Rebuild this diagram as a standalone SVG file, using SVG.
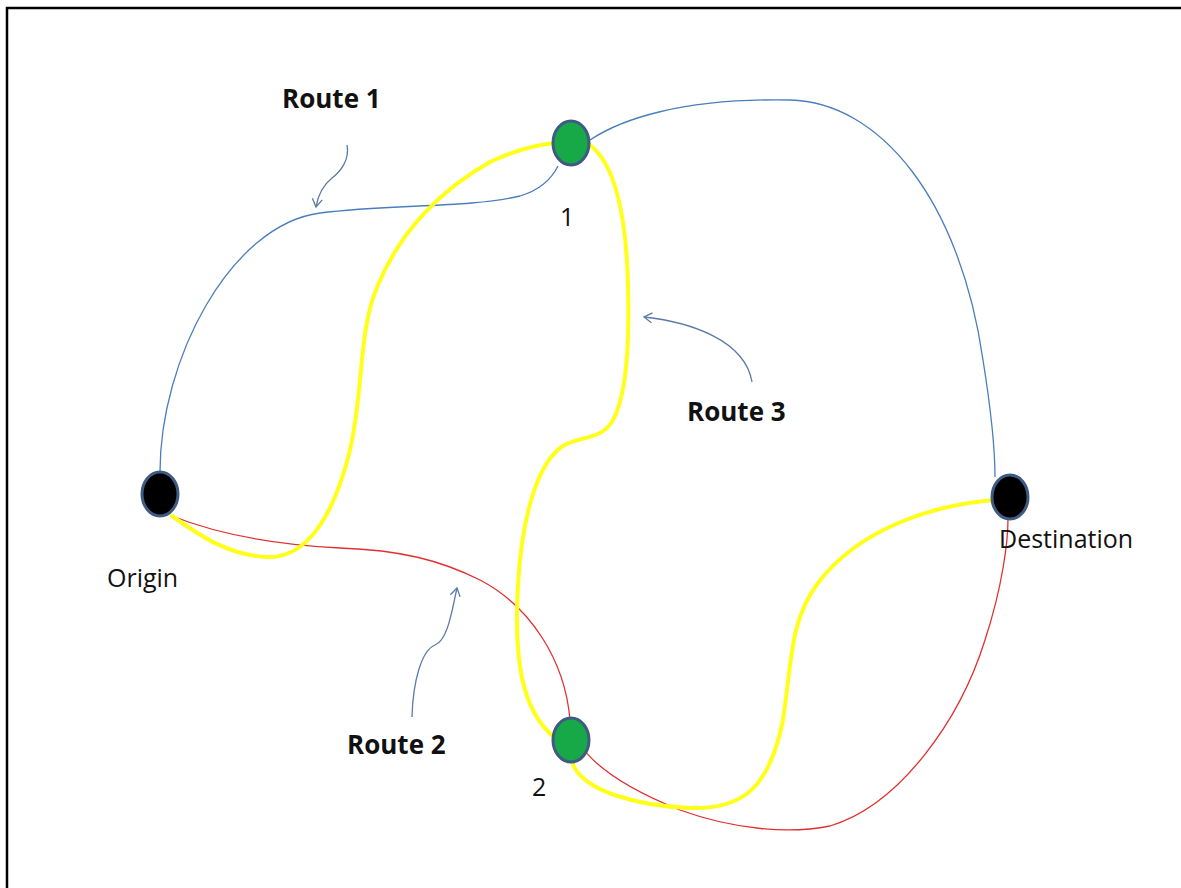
<svg xmlns="http://www.w3.org/2000/svg" width="1181" height="888" viewBox="0 0 1181 888">
  <defs>
    <style>
      .frame { fill: #ffffff; stroke: #000000; stroke-width: 2.5; }
      .route1 { fill: none; stroke: #4a7ebb; stroke-width: 1.3; }
      .route2 { fill: none; stroke: #e03030; stroke-width: 1.3; }
      .route3 { fill: none; stroke: #ffff1a; stroke-width: 4; stroke-linecap: round; }
      .pointer { fill: none; stroke: #5a7aa8; stroke-width: 1.3; }
      .end { fill: #000000; stroke: #3f5b82; stroke-width: 3; }
      .stop { fill: #17a848; stroke: #3f5b82; stroke-width: 3; }
      .lbl { font-family: "Open Sans", "Liberation Sans", sans-serif; font-size: 25px; fill: #111111; }
      .title { font-family: "Open Sans", "Liberation Sans", sans-serif; font-size: 26px; font-weight: bold; fill: #111111; }
    </style>
    <marker id="open-arrow" viewBox="0 0 12 12" refX="10" refY="6" markerWidth="12" markerHeight="12" markerUnits="userSpaceOnUse" orient="auto">
      <path d="M2,1 L10,6 L2,11" fill="none" stroke="#5a7aa8" stroke-width="1.3"/>
    </marker>
  </defs>

  <!-- page frame -->
  <rect class="frame" x="7" y="8" width="1190" height="900"/>

  <!-- connectors -->
  <g id="connectors">
    <!-- Route 1: origin -> 1 -> destination -->
    <path class="route1" d="M160,472 C160,360 230,225 320,213 C390,204 470,208 520,196 C540,190 552,178 558,166"/>
    <path class="route1" d="M590,140 C620,120 680,98 790,100 C880,102 960,200 983,360 C991,410 995,450 995,477"/>
    <!-- Route 2: origin -> 2 -> destination -->
    <path class="route2" d="M172,516 C220,535 280,545 340,548 C400,550 440,560 480,580 C530,606 565,660 570,720 C576,760 630,790 680,810 C735,830 790,834 830,826 C900,805 960,720 985,640 C1003,585 1008,540 1008,519"/>
    <!-- Route 3: origin -> 1 -> 2 -> destination -->
    <path class="route3" d="M172,516 C200,536 230,556 268,557 C305,558 333,520 350,450 C364,390 358,330 378,285 C400,232 440,190 490,162 C515,150 537,145 554,143"/>
    <path class="route3" d="M590,145 C612,162 626,205 628,285 C630,350 626,398 612,422 C600,440 580,436 563,446 C538,462 522,515 518,585 C514,655 520,710 555,738"/>
    <path class="route3" d="M572,762 C582,792 640,806 690,808 C745,810 770,785 783,720 C792,660 790,620 818,583 C858,530 930,505 995,500"/>
    <!-- route call-out pointers -->
    <path class="pointer" marker-end="url(#open-arrow)" d="M347,145 C350,160 340,172 332,178 C322,186 318,195 316,207"/>
    <path class="pointer" marker-end="url(#open-arrow)" d="M752,382 C745,340 690,322 644,317"/>
    <path class="pointer" marker-end="url(#open-arrow)" d="M412,717 C413,680 422,650 435,645 C448,640 452,610 457,588"/>
  </g>

  <g id="origin">
    <ellipse class="end" cx="160" cy="494" rx="18" ry="22"/>
    <text class="lbl" x="107" y="587">Origin</text>
  </g>
  <g id="node-1">
    <ellipse class="stop" cx="571" cy="143" rx="18" ry="22"/>
    <text class="lbl" x="560" y="226">1</text>
  </g>
  <g id="node-2">
    <ellipse class="stop" cx="571" cy="740" rx="18" ry="22"/>
    <text class="lbl" x="532" y="796">2</text>
  </g>
  <g id="destination">
    <ellipse class="end" cx="1010" cy="497" rx="18" ry="22"/>
    <text class="lbl" x="999" y="548">Destination</text>
  </g>

  <g id="label-route-1"><text class="title" x="282" y="108">Route 1</text></g>
  <g id="label-route-3"><text class="title" x="687" y="421">Route 3</text></g>
  <g id="label-route-2"><text class="title" x="347" y="754">Route 2</text></g>
</svg>
